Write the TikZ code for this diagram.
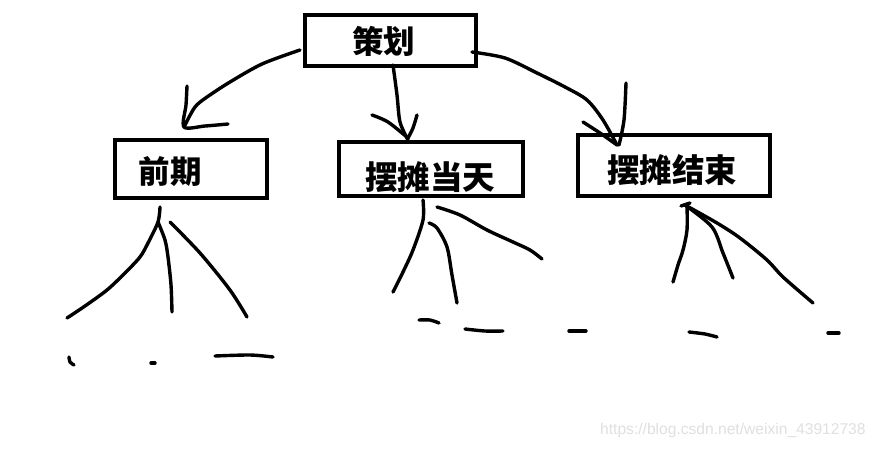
\documentclass[tikz,border=0pt]{standalone}
\usepackage{fontspec}
\newfontfamily\cjk{Noto Sans CJK SC}
\newfontfamily\wm{Liberation Sans}
\begin{document}
\begin{tikzpicture}[x=1pt,y=-1pt,
  box/.style={draw=black,line width=4pt,rectangle,inner sep=0pt},
  lbl/.style={font=\cjk\bfseries\fontsize{31.5}{31.5}\selectfont,inner sep=0pt},
  pen/.style={draw=black,line width=3.4pt,line cap=round,line join=round}]
\useasboundingbox[fill=white] (0,0) rectangle (880,448);
% boxes
\node[box,minimum width=171pt,minimum height=51pt] (ch) at (390.5,40.5) {};
\node[box,minimum width=152pt,minimum height=58pt] (qq) at (191,169) {};
\node[box,minimum width=184pt,minimum height=54pt] (dt) at (431,169) {};
\node[box,minimum width=192pt,minimum height=61pt] (js) at (674,165.5) {};
% labels
\node[lbl] (tch) at (383.5,41.5) {策划};
\node[lbl] (tqq) at (170,171.5) {前期};
\node[lbl,font=\cjk\bfseries\fontsize{32.5}{32.5}\selectfont] (tdt) at (430,177.5) {摆摊当天};
\node[lbl,font=\cjk\bfseries\fontsize{32.5}{32.5}\selectfont] (tjs) at (672,170.5) {摆摊结束};
% arrow to 前期
\draw[pen] plot[smooth] coordinates {(300,50) (262,64) (230,82) (207,97) (195,107) (185,125)};
\draw[pen] plot[smooth] coordinates {(187,86) (186,105) (184,127) (205,126) (228,124)};
% arrow to 摆摊当天
\draw[pen] plot[smooth] coordinates {(393,65) (397,95) (400,122) (408,140)};
\draw[pen] plot[smooth] coordinates {(372,115) (388,122) (408,138)};
\draw[pen] plot[smooth] coordinates {(417,115) (413,128) (408,138)};
% arrow to 摆摊结束
\draw[pen] plot[smooth] coordinates {(472,52) (505,58) (537,73) (565,87) (587,100) (603,120) (617,145)};
\draw[pen] plot[smooth] coordinates {(583,122) (600,133) (617,145)};
\draw[pen] plot[smooth] coordinates {(626,83) (624,120) (619,145)};
% from 前期
\draw[pen] plot[smooth] coordinates {(160,207) (158,222) (148,243) (140,257) (125,273) (107,290) (85,306) (67,318)};
\draw[pen] plot[smooth] coordinates {(158,222) (165,240) (168,257) (171,285) (172,312)};
\draw[pen] plot[smooth] coordinates {(170,222) (200,253) (230,290) (247,317)};
\draw[pen] plot[smooth] coordinates {(69,357) (70,362) (74,365)};
\draw[pen] (151,363) -- (155,363);
\draw[pen] plot[smooth] coordinates {(215,356) (250,355) (273,357)};
% from 摆摊当天
\draw[pen] plot[smooth] coordinates {(423,200) (423,220) (413,250) (403,272) (393,292)};
\draw[pen] plot[smooth] coordinates {(429,223) (437,228) (447,247) (452,275) (457,303)};
\draw[pen] plot[smooth] coordinates {(437,207) (460,215) (487,230) (513,242) (530,250) (542,259)};
\draw[pen] plot[smooth] coordinates {(419,320) (430,320) (439,323)};
\draw[pen] plot[smooth] coordinates {(465,329) (485,331) (503,331)};
\draw[pen] (569,331) -- (586,331);
% from 摆摊结束
\draw[pen] plot[smooth] coordinates {(681,206) (690,203)};
\draw[pen] plot[smooth] coordinates {(687,205) (687,230) (683,250) (678,265) (673,282)};
\draw[pen] plot[smooth] coordinates {(685,205) (712,227) (723,253) (733,278)};
\draw[pen] plot[smooth] coordinates {(685,205) (717,223) (740,238) (767,260) (783,277) (813,303)};
\draw[pen] plot[smooth] coordinates {(689,332) (705,334) (717,337)};
\draw[pen] (828,333) -- (839,333);
% watermark
\node[font=\wm\fontsize{15.6}{15.6}\selectfont,text=black!12,anchor=west,inner sep=0pt] (wm) at (600,430) {https://blog.csdn.net/weixin\_43912738};
\end{tikzpicture}
\end{document}
